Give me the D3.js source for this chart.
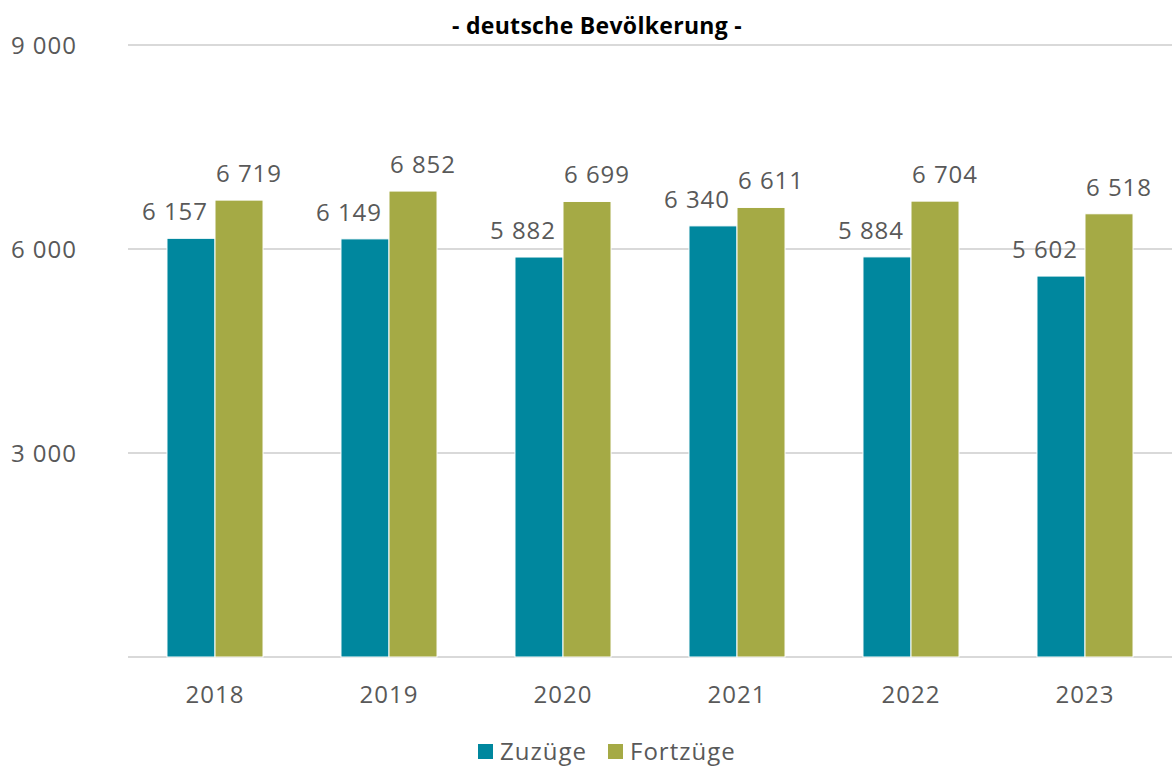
<!DOCTYPE html>
<html>
<head>
<meta charset="utf-8">
<script src="https://cdn.jsdelivr.net/npm/d3@7"></script>
<style>
  body { margin: 0; background: #fff; }
  text { font-family: "Open Sans", "Noto Sans", sans-serif; fill: #595959; letter-spacing: 1px; }
</style>
</head>
<body>
<div id="container"></div>
<script>
// data
const years = ["2018", "2019", "2020", "2021", "2022", "2023"];
const zuzuege = [6157, 6149, 5882, 6340, 5884, 5602];
const fortzuege = [6719, 6852, 6699, 6611, 6704, 6518];
const seriesNames = ["Zuzüge", "Fortzüge"];
const seriesColors = ["#00879e", "#a5aa45"];
const yTicks = [3000, 6000, 9000];

const width = 1172, height = 769;
const margin = {top: 45, right: 0, bottom: 112, left: 128};

const fmt = v => d3.format(",")(v).replace(/,/g, " ");

const svg = d3.select("#container").append("svg")
  .attr("width", width)
  .attr("height", height);

const x = d3.scaleBand()
  .domain(years)
  .range([margin.left, width - margin.right])
  .paddingInner(0.448)
  .paddingOuter(0.224);

const x1 = d3.scaleBand()
  .domain(seriesNames)
  .range([0, x.bandwidth()]);

const y = d3.scaleLinear()
  .domain([0, 9000])
  .range([height - margin.bottom, margin.top]);

// gridlines
svg.append("g")
  .selectAll("line")
  .data([0, ...yTicks])
  .join("line")
  .attr("x1", margin.left)
  .attr("x2", width)
  .attr("y1", d => y(d))
  .attr("y2", d => y(d))
  .attr("stroke", "#d9d9d9")
  .attr("stroke-width", 2);

// y labels
svg.append("g")
  .selectAll("text")
  .data(yTicks)
  .join("text")
  .attr("x", 77)
  .attr("y", d => y(d) + 9)
  .attr("text-anchor", "end")
  .style("font-size", "24px")
  .text(fmt);

// bars
const rows = years.map((yr, i) => ({year: yr, vals: [zuzuege[i], fortzuege[i]]}));

const groups = svg.append("g")
  .selectAll("g")
  .data(rows)
  .join("g")
  .attr("transform", d => `translate(${x(d.year)},0)`);

groups.selectAll("rect")
  .data(d => d.vals.map((v, j) => ({name: seriesNames[j], v, j})))
  .join("rect")
  .attr("x", d => x1(d.name))
  .attr("width", x1.bandwidth())
  .attr("y", d => y(d.v))
  .attr("height", d => y(0) - y(d.v))
  .attr("fill", d => seriesColors[d.j])
  .attr("stroke", "#fff")
  .attr("stroke-width", 1);

groups.selectAll("text.val")
  .data(d => d.vals.map((v, j) => ({name: seriesNames[j], v, j})))
  .join("text")
  .attr("class", "val")
  .attr("x", d => x1(d.name) + x1.bandwidth() / 2 + (d.j === 0 ? -16 : 10))
  .attr("y", d => y(d.v) - 18)
  .attr("text-anchor", "middle")
  .style("font-size", "24px")
  .text(d => fmt(d.v));

// x labels
svg.append("g")
  .selectAll("text")
  .data(years)
  .join("text")
  .attr("x", d => x(d) + x.bandwidth() / 2)
  .attr("y", 703)
  .attr("text-anchor", "middle")
  .style("font-size", "24px")
  .text(d => d);

// title
svg.append("text")
  .attr("x", 597)
  .attr("y", 34)
  .attr("text-anchor", "middle")
  .style("font-size", "23px")
  .style("font-weight", "bold")
  .style("letter-spacing", "0.3px")
  .style("fill", "#000")
  .text("- deutsche Bevölkerung -");

// legend
const legendX = [478, 608];
const legend = svg.append("g")
  .selectAll("g")
  .data(seriesNames)
  .join("g")
  .attr("transform", (d, i) => `translate(${legendX[i]},744)`);

legend.append("rect")
  .attr("width", 15)
  .attr("height", 15)
  .attr("fill", (d, i) => seriesColors[i]);

legend.append("text")
  .attr("x", 22)
  .attr("y", 16)
  .style("font-size", "24px")
  .text(d => d);
</script>
</body>
</html>
